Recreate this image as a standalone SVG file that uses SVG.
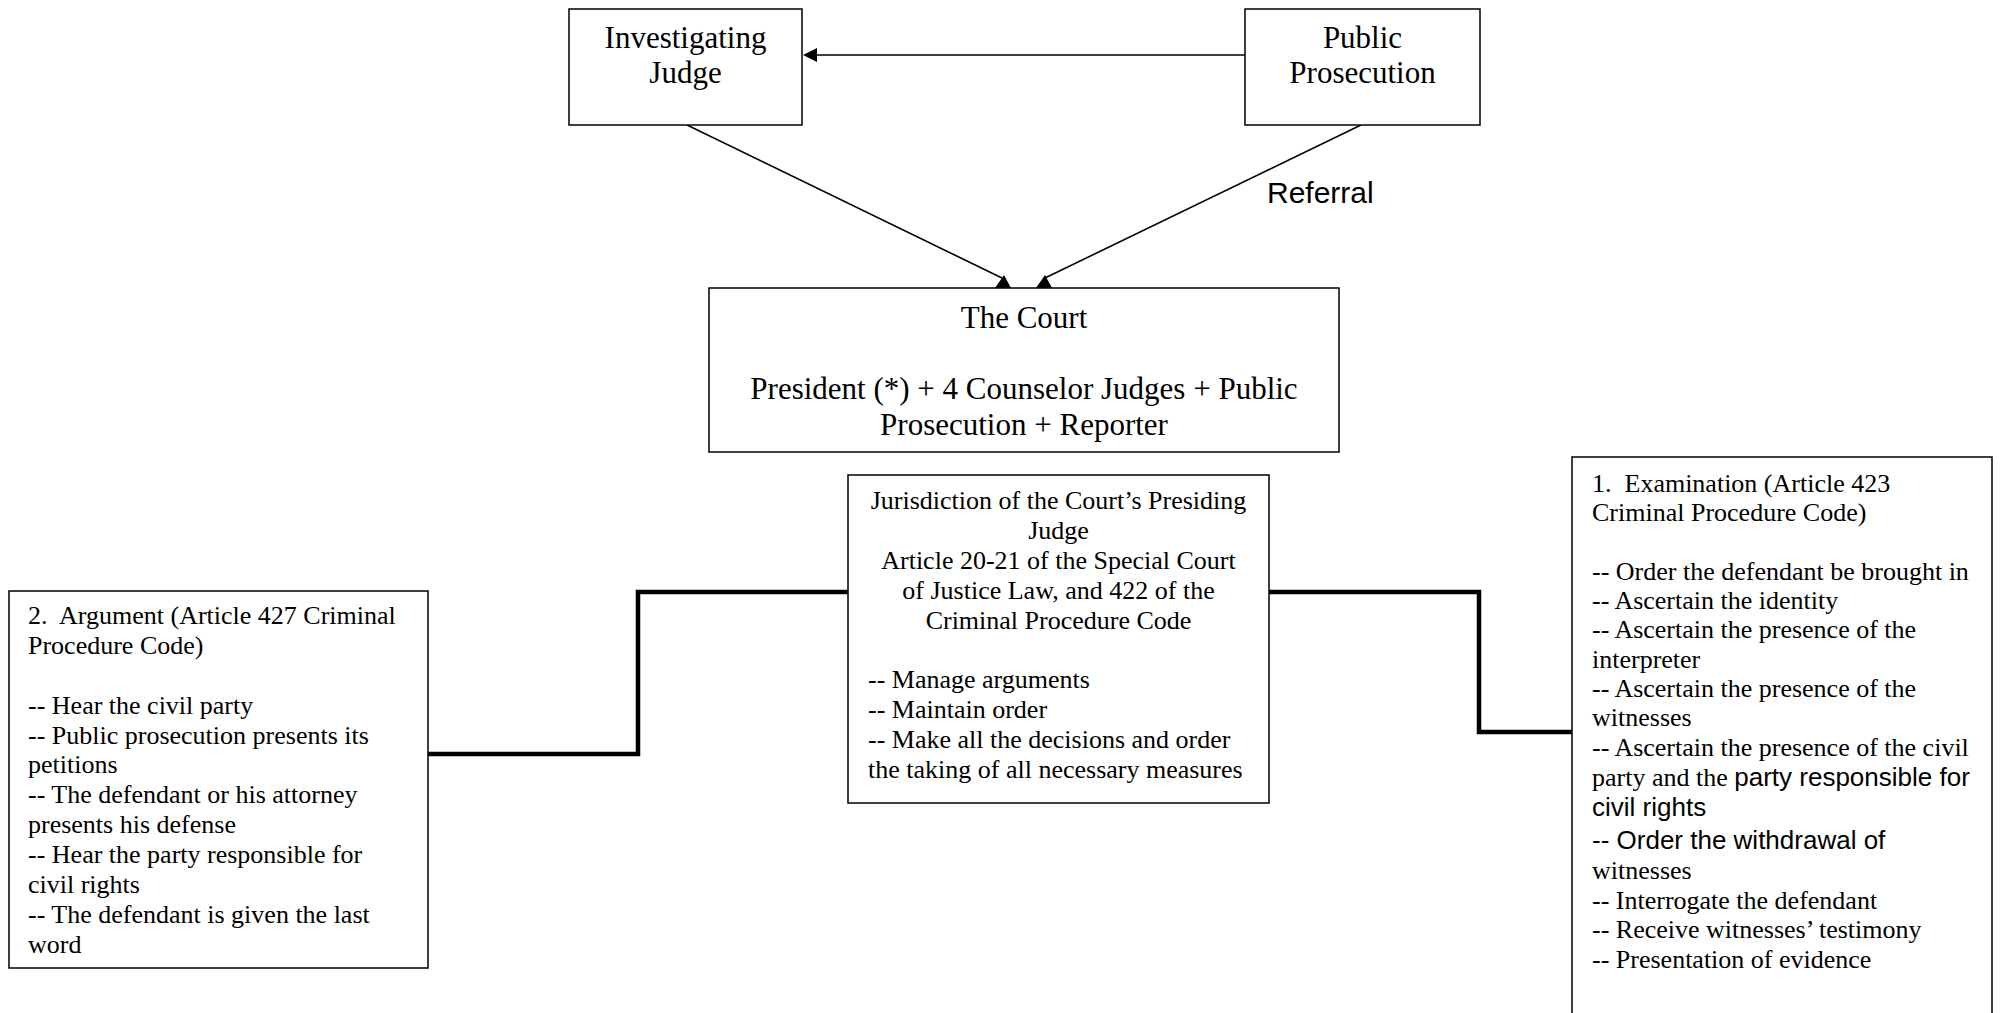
<svg xmlns="http://www.w3.org/2000/svg" xmlns:xlink="http://www.w3.org/1999/xlink" width="2000" height="1013" viewBox="0 0 2000 1013">
  <style>
    .box { fill: #ffffff; stroke: #000000; stroke-width: 1.5; }
    .serif { font-family: "Liberation Serif", "Times New Roman", serif; fill: #000000; }
    .sans { font-family: "Liberation Sans", Arial, sans-serif; fill: #000000; }
    .big { font-size: 31px; }
    .small { font-size: 26px; }
    .mid { text-anchor: middle; }
    .thin { stroke: #000000; stroke-width: 1.6; fill: none; }
    .thick { stroke: #000000; stroke-width: 4.5; fill: none; stroke-linejoin: miter; }
  </style>
  <defs>
    <!-- upright arrow tip resting on the top edge of a box -->
    <path id="tipUp" d="M -8 0 L 8 0 L 1 -13 Z" fill="#000000"/>
  </defs>

  <rect width="2000" height="1013" fill="#ffffff"/>

  <!-- connectors -->
  <g id="connectors">
    <!-- Public Prosecution to Investigating Judge -->
    <line class="thin" x1="1245" y1="55" x2="815" y2="55"/>
    <polygon points="803,55 817,48 817,62" fill="#000000"/>
    <!-- both upper boxes down to the Court -->
    <line class="thin" x1="687" y1="125" x2="1002" y2="278"/>
    <line class="thin" x1="1361" y1="125" x2="1045" y2="278"/>
    <use xlink:href="#tipUp" x="1003" y="288"/>
    <use xlink:href="#tipUp" x="1044" y="288"/>
    <!-- presiding judge to the two stages -->
    <polyline class="thick" points="428,754 638,754 638,592 848,592"/>
    <polyline class="thick" points="1269,592 1479,592 1479,732 1572,732"/>
  </g>

  <g id="referral-label">
    <text class="sans" x="1267" y="203" font-size="30">Referral</text>
  </g>

  <g id="investigating-judge">
    <rect class="box" x="569" y="9" width="233" height="116"/>
    <text class="serif big mid" x="685.5" y="48">Investigating</text>
    <text class="serif big mid" x="685.5" y="83">Judge</text>
  </g>

  <g id="public-prosecution">
    <rect class="box" x="1245" y="9" width="235" height="116"/>
    <text class="serif big mid" x="1362.5" y="48">Public</text>
    <text class="serif big mid" x="1362.5" y="83">Prosecution</text>
  </g>

  <g id="the-court">
    <rect class="box" x="709" y="288" width="630" height="164"/>
    <text class="serif big mid" x="1024" y="328">The Court</text>
    <text class="serif big mid" x="1024" y="399">President (*) + 4 Counselor Judges + Public</text>
    <text class="serif big mid" x="1024" y="435">Prosecution + Reporter</text>
  </g>

  <g id="presiding-judge">
    <rect class="box" x="848" y="475" width="421" height="328"/>
    <text class="serif small mid" x="1058.5" y="509">Jurisdiction of the Court’s Presiding</text>
    <text class="serif small mid" x="1058.5" y="539">Judge</text>
    <text class="serif small mid" x="1058.5" y="569">Article 20-21 of the Special Court</text>
    <text class="serif small mid" x="1058.5" y="599">of Justice Law, and 422 of the</text>
    <text class="serif small mid" x="1058.5" y="629">Criminal Procedure Code</text>
    <text class="serif small" x="868" y="688">-- Manage arguments</text>
    <text class="serif small" x="868" y="718">-- Maintain order</text>
    <text class="serif small" x="868" y="748">-- Make all the decisions and order</text>
    <text class="serif small" x="868" y="778">the taking of all necessary measures</text>
  </g>

  <g id="argument">
    <rect class="box" x="9" y="591" width="419" height="377"/>
    <text class="serif small" x="28" y="624">2.&#160; Argument (Article 427 Criminal</text>
    <text class="serif small" x="28" y="654">Procedure Code)</text>
    <text class="serif small" x="28" y="714">-- Hear the civil party</text>
    <text class="serif small" x="28" y="744">-- Public prosecution presents its</text>
    <text class="serif small" x="28" y="773">petitions</text>
    <text class="serif small" x="28" y="803">-- The defendant or his attorney</text>
    <text class="serif small" x="28" y="833">presents his defense</text>
    <text class="serif small" x="28" y="863">-- Hear the party responsible for</text>
    <text class="serif small" x="28" y="893">civil rights</text>
    <text class="serif small" x="28" y="923">-- The defendant is given the last</text>
    <text class="serif small" x="28" y="953">word</text>
  </g>

  <g id="examination">
    <rect class="box" x="1572" y="457" width="420" height="580"/>
    <text class="serif small" x="1592" y="492">1.&#160; Examination (Article 423</text>
    <text class="serif small" x="1592" y="521">Criminal Procedure Code)</text>
    <text class="serif small" x="1592" y="580">-- Order the defendant be brought in</text>
    <text class="serif small" x="1592" y="609">-- Ascertain the identity</text>
    <text class="serif small" x="1592" y="638">-- Ascertain the presence of the</text>
    <text class="serif small" x="1592" y="668">interpreter</text>
    <text class="serif small" x="1592" y="697">-- Ascertain the presence of the</text>
    <text class="serif small" x="1592" y="726">witnesses</text>
    <text class="serif small" x="1592" y="756">-- Ascertain the presence of the civil</text>
    <text class="serif small" x="1592" y="786">party and the <tspan class="sans">party responsible for</tspan></text>
    <text class="sans small" x="1592" y="816">civil rights</text>
    <text class="sans small" x="1592" y="849">-- Order the withdrawal of</text>
    <text class="serif small" x="1592" y="879">witnesses</text>
    <text class="serif small" x="1592" y="909">-- Interrogate the defendant</text>
    <text class="serif small" x="1592" y="938">-- Receive witnesses’ testimony</text>
    <text class="serif small" x="1592" y="968">-- Presentation of evidence</text>
  </g>
</svg>
